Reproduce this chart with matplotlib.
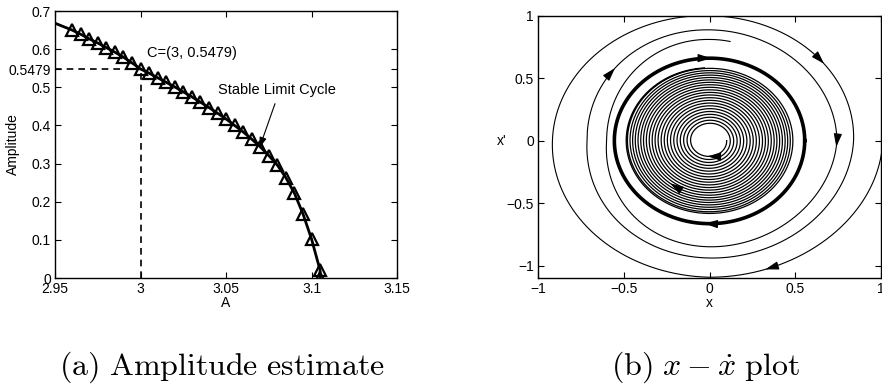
import numpy as np
import matplotlib
matplotlib.use("Agg")
import matplotlib.pyplot as plt

plt.rcParams["font.family"] = ["Liberation Sans", "DejaVu Sans"]
plt.rcParams["mathtext.fontset"] = "cm"

# --- (a) amplitude estimate: values ------------------------------------------
A_line = [2.950, 2.960, 2.965, 2.970, 2.975, 2.980, 2.985, 2.990, 2.995, 3.000,
          3.005, 3.010, 3.015, 3.020, 3.025, 3.030, 3.035, 3.040, 3.045, 3.050,
          3.055, 3.060, 3.065, 3.070, 3.075, 3.080, 3.085, 3.090, 3.095, 3.100,
          3.105, 3.105]
amp_line = [0.668, 0.650, 0.639, 0.627, 0.616, 0.604, 0.592, 0.579, 0.564, 0.548,
            0.537, 0.525, 0.513, 0.501, 0.488, 0.475, 0.461, 0.447, 0.432, 0.417,
            0.400, 0.383, 0.364, 0.344, 0.321, 0.296, 0.263, 0.222, 0.168, 0.102,
            0.020, 0.000]
C_point = (3.0, 0.5479)
a_xticks = [2.95, 3.0, 3.05, 3.1, 3.15]
a_xticklabels = ["2.95", "3", "3.05", "3.1", "3.15"]
a_yticks = [0, 0.1, 0.2, 0.3, 0.4, 0.5, 0.6, 0.7]

# --- (b) phase plot: quarter-turn extremes --------------------------------------
# clockwise order right, bottom, left, top, ...
outer_ext = [1.01, -1.094, -0.916, 1.00, 0.84, -0.94, -0.714, 0.887,
             0.743, -0.85, -0.60, 0.81]
outer_end_x = 0.12
limit_ext = [0.555, -0.665, -0.555, 0.66, 0.555]
# inner spiral: x-radius at each crossing of the positive x axis
spiral_r = [0.100, 0.121, 0.141, 0.161, 0.180, 0.199, 0.218, 0.237, 0.255,
            0.273, 0.291, 0.309, 0.326, 0.343, 0.360, 0.377, 0.393, 0.409,
            0.425, 0.441, 0.456, 0.471, 0.486]
spiral_yx = 1.2
spiral_end_x = -0.03
b_ticks = [-1, -0.5, 0, 0.5, 1]


def quarter_orbit(ext, end_x=0.0, n=3000):
    k = np.arange(len(ext))
    th = -k * np.pi / 2
    side = k % 4
    ta = -th[(side == 0) | (side == 2)]
    va = np.abs(np.array(ext))[(side == 0) | (side == 2)]
    tb = -th[(side == 1) | (side == 3)]
    vb = np.abs(np.array(ext))[(side == 1) | (side == 3)]
    a_end = va[-1]
    t_end = th[-1] - np.arcsin(np.clip(end_x / a_end, -1, 1))
    t = np.linspace(0, t_end, n)
    a = np.interp(-t, ta, va)
    b = np.interp(-t, tb, vb)
    return a * np.cos(t), b * np.sin(t)


def spiral(radii, ratio, end_x, n=12000):
    tk = 2 * np.pi * np.arange(len(radii))
    r_end = radii[-1]
    t_end = tk[-1] + 1.5 * np.pi - np.arcsin(abs(end_x) / r_end)
    t = np.linspace(0, t_end, n)
    a = np.interp(t, tk, radii)
    return a * np.cos(-t), ratio * a * np.sin(-t)


def add_arrow(ax, x, y, px, py, step=4):
    i = int(np.argmin((x - px) ** 2 + (y - py) ** 2))
    i = min(i, len(x) - step - 1)
    ax.annotate("", xy=(x[i + step], y[i + step]), xytext=(x[i], y[i]),
                arrowprops=dict(arrowstyle="-|>,head_length=0.8,head_width=0.25",
                                color="k", lw=0.8, shrinkA=0, shrinkB=0,
                                mutation_scale=10))


fig = plt.figure(figsize=(8.82, 3.88), dpi=100)

# ---------------- panel (a) ----------------
ax1 = fig.add_axes([0.0624, 0.2835, 0.3878, 0.6881])
ax1.plot(A_line, amp_line, color="k", lw=2.0, zorder=3)
ax1.plot(A_line[1:], amp_line[1:], linestyle="none", marker="^", ms=9,
         mfc="none", mec="k", mew=1.6, zorder=2)
ax1.plot([2.95, C_point[0]], [C_point[1]] * 2, "k--", lw=1.2, dashes=(4, 3))
ax1.plot([C_point[0]] * 2, [0, C_point[1]], "k--", lw=1.2, dashes=(4, 3))
ax1.text(3.004, 0.59, "C=(3, 0.5479)", fontsize=10.5, va="center")
ax1.annotate("Stable Limit Cycle", xy=(3.0695, 0.341), xytext=(3.080, 0.493),
             fontsize=10.5, ha="center", va="center",
             arrowprops=dict(arrowstyle="-|>,head_length=0.6,head_width=0.2",
                             color="k", lw=0.8, shrinkA=3, shrinkB=0,
                             relpos=(0.5, 0)))
ax1.set_xlim(2.95, 3.15)
ax1.set_ylim(0, 0.7)
ax1.set_xticks(a_xticks)
ax1.set_xticklabels(a_xticklabels)
ax1.set_yticks(a_yticks + [C_point[1]])
ax1.set_yticklabels([f"{v:g}" for v in a_yticks] + ["0.5479"])
ax1.set_xlabel("A", fontsize=10, labelpad=0)
ax1.set_ylabel("Amplitude", fontsize=10)
ax1.yaxis.set_label_coords(-0.102, 0.5)

# ---------------- panel (b) ----------------
ax2 = fig.add_axes([0.6100, 0.2835, 0.3889, 0.6760])
ox, oy = quarter_orbit(outer_ext, outer_end_x)
lx, ly = quarter_orbit(limit_ext, 0.0)
sx, sy = spiral(spiral_r, spiral_yx, spiral_end_x)
ax2.plot(ox, oy, color="k", lw=0.8)
ax2.plot(sx, sy, color="k", lw=0.9)
ax2.plot(lx, ly, color="k", lw=2.6)
for px, py in [(0.646, 0.64), (0.743, -0.02), (0.373, -1.046), (-0.61, 0.586)]:
    add_arrow(ax2, ox, oy, px, py, step=6)
for px, py in [(0.0, 0.66), (-0.02, -0.665)]:
    add_arrow(ax2, lx, ly, px, py, step=8)
for px, py in [(0.0, -0.1), (-0.19, -0.37)]:
    add_arrow(ax2, sx, sy, px, py, step=10)
ax2.set_xlim(-1, 1)
ax2.set_ylim(-1.1, 1)
ax2.set_xticks(b_ticks)
ax2.set_yticks(b_ticks)
ax2.set_xticklabels(["\u22121", "\u22120.5", "0", "0.5", "1"])
ax2.set_yticklabels(["\u22121", "\u22120.5", "0", "0.5", "1"])
ax2.set_xlabel("x", fontsize=10, labelpad=0)
ax2.set_ylabel("x'", fontsize=10, rotation=0, va="center")
ax2.yaxis.set_label_coords(-0.105, 0.524)

for ax in (ax1, ax2):
    ax.tick_params(direction="in", length=4, width=0.8, top=True, right=True,
                   labelsize=10, pad=3)
    for s in ax.spines.values():
        s.set_linewidth(1.0)

fig.text(0.252, 0.035, r"$\mathrm{(a)\ Amplitude\ estimate}$", fontsize=23,
         ha="center", va="baseline")
fig.text(0.800, 0.035, r"$\mathrm{(b)}\ x-\dot{x}\ \mathrm{plot}$", fontsize=23,
         ha="center", va="baseline")

fig.savefig("out.png", dpi=100)
